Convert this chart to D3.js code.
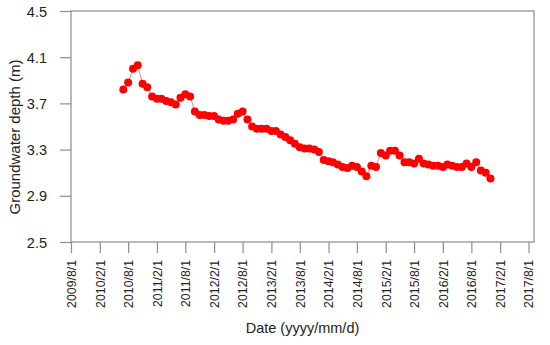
<!DOCTYPE html>
<html>
<head>
<meta charset="utf-8">
<script src="https://cdn.jsdelivr.net/npm/d3@7"></script>
<style>
  html, body { margin: 0; padding: 0; background: #fff; }
  svg { display: block; font-family: "Liberation Sans", Arial, sans-serif; }
</style>
</head>
<body>
<svg id="chart" width="550" height="345"></svg>
<script>
// ---- data ----
const dates = [
  "2010/7/1","2010/8/1","2010/9/1","2010/10/1","2010/11/1","2010/12/1",
  "2011/1/1","2011/2/1","2011/3/1","2011/4/1","2011/5/1","2011/6/1",
  "2011/7/1","2011/8/1","2011/9/1","2011/10/1","2011/11/1","2011/12/1",
  "2012/1/1","2012/2/1","2012/3/1","2012/4/1","2012/5/1","2012/6/1",
  "2012/7/1","2012/8/1","2012/9/1","2012/10/1","2012/11/1","2012/12/1",
  "2013/1/1","2013/2/1","2013/3/1","2013/4/1","2013/5/1","2013/6/1",
  "2013/7/1","2013/8/1","2013/9/1","2013/10/1","2013/11/1","2013/12/1",
  "2014/1/1","2014/2/1","2014/3/1","2014/4/1","2014/5/1","2014/6/1",
  "2014/7/1","2014/8/1","2014/9/1","2014/10/1","2014/11/1","2014/12/1",
  "2015/1/1","2015/2/1","2015/3/1","2015/4/1","2015/5/1","2015/6/1",
  "2015/7/1","2015/8/1","2015/9/1","2015/10/1","2015/11/1","2015/12/1",
  "2016/1/1","2016/2/1","2016/3/1","2016/4/1","2016/5/1","2016/6/1",
  "2016/7/1","2016/8/1","2016/9/1","2016/10/1","2016/11/1","2016/12/1"
];
const depth = [
  3.82, 3.88, 4.00, 4.03, 3.87, 3.84,
  3.76, 3.74, 3.74, 3.72, 3.71, 3.69,
  3.75, 3.78, 3.76, 3.63, 3.60, 3.60,
  3.59, 3.59, 3.56, 3.55, 3.55, 3.56,
  3.61, 3.63, 3.56, 3.50, 3.48, 3.48,
  3.48, 3.46, 3.46, 3.43, 3.41, 3.38,
  3.35, 3.32, 3.31, 3.31, 3.30, 3.28,
  3.21, 3.20, 3.19, 3.17, 3.15, 3.14,
  3.16, 3.15, 3.11, 3.07, 3.16, 3.15,
  3.27, 3.25, 3.29, 3.29, 3.25, 3.19,
  3.19, 3.18, 3.22, 3.18, 3.17, 3.16,
  3.16, 3.15, 3.17, 3.16, 3.15, 3.15,
  3.18, 3.15, 3.19, 3.12, 3.10, 3.05
];
const xTickLabels = [
  "2009/8/1","2010/2/1","2010/8/1","2011/2/1","2011/8/1","2012/2/1",
  "2012/8/1","2013/2/1","2013/8/1","2014/2/1","2014/8/1","2015/2/1",
  "2015/8/1","2016/2/1","2016/8/1","2017/2/1","2017/8/1"
];
const yTicks = [2.5, 2.9, 3.3, 3.7, 4.1, 4.5];
const xDomain = ["2009/8/1", "2017/9/5"];
const yDomain = [2.5, 4.5];

// ---- drawing ----
const parse = d3.timeParse("%Y/%-m/%-d");
const data = dates.map((d, i) => ({ date: parse(d), v: depth[i] }));

const L = 71, R = 534, T = 11, B = 242;
const svg = d3.select("#chart");
const x = d3.scaleTime().domain(xDomain.map(parse)).range([L, R]);
const y = d3.scaleLinear().domain(yDomain).range([B, T]);

const axisColor = "#8c8c8c";

// frame
svg.append("rect")
  .attr("x", L).attr("y", T).attr("width", R - L).attr("height", B - T)
  .attr("fill", "none").attr("stroke", axisColor).attr("stroke-width", 1.2);

// y axis
const yAxis = svg.append("g").attr("transform", `translate(${L},0)`)
  .call(d3.axisLeft(y).tickValues(yTicks).tickFormat(d3.format(".1f")).tickSize(11).tickSizeOuter(0));
yAxis.select(".domain").remove();
yAxis.selectAll(".tick line").attr("stroke", axisColor).attr("stroke-width", 1.2);
yAxis.selectAll(".tick text")
  .attr("x", -24).attr("fill", "#222").style("font-size", "14.5px").attr("dy", "0.35em");

// x axis
const xAxis = svg.append("g").attr("transform", `translate(0,${B})`)
  .call(d3.axisBottom(x).tickValues(xTickLabels.map(parse)).tickFormat(d3.timeFormat("%Y/%-m/%-d")).tickSize(11).tickSizeOuter(0));
xAxis.select(".domain").remove();
xAxis.selectAll(".tick line").attr("stroke", axisColor).attr("stroke-width", 1.2);
xAxis.selectAll(".tick text")
  .attr("fill", "#222").style("font-size", "12.3px")
  .attr("transform", "rotate(-90)")
  .attr("text-anchor", "end")
  .attr("x", -18).attr("y", 0).attr("dy", "0.35em");

// line
const line = d3.line().x(d => x(d.date)).y(d => y(d.v));
svg.append("path").datum(data)
  .attr("d", line).attr("fill", "none")
  .attr("stroke", "#f06060").attr("stroke-width", 0.8);

// points
svg.append("g").selectAll("circle").data(data).join("circle")
  .attr("cx", d => x(d.date)).attr("cy", d => y(d.v)).attr("r", 4)
  .attr("fill", "#ff0000");

// titles
svg.append("text")
  .attr("x", (L + R) / 2).attr("y", 333)
  .attr("text-anchor", "middle").attr("fill", "#222").style("font-size", "14.5px")
  .text("Date (yyyy/mm/d)");
svg.append("text")
  .attr("transform", `translate(20,137) rotate(-90)`)
  .attr("text-anchor", "middle").attr("fill", "#222").style("font-size", "15px")
  .text("Groundwater depth (m)");
</script>
</body>
</html>
